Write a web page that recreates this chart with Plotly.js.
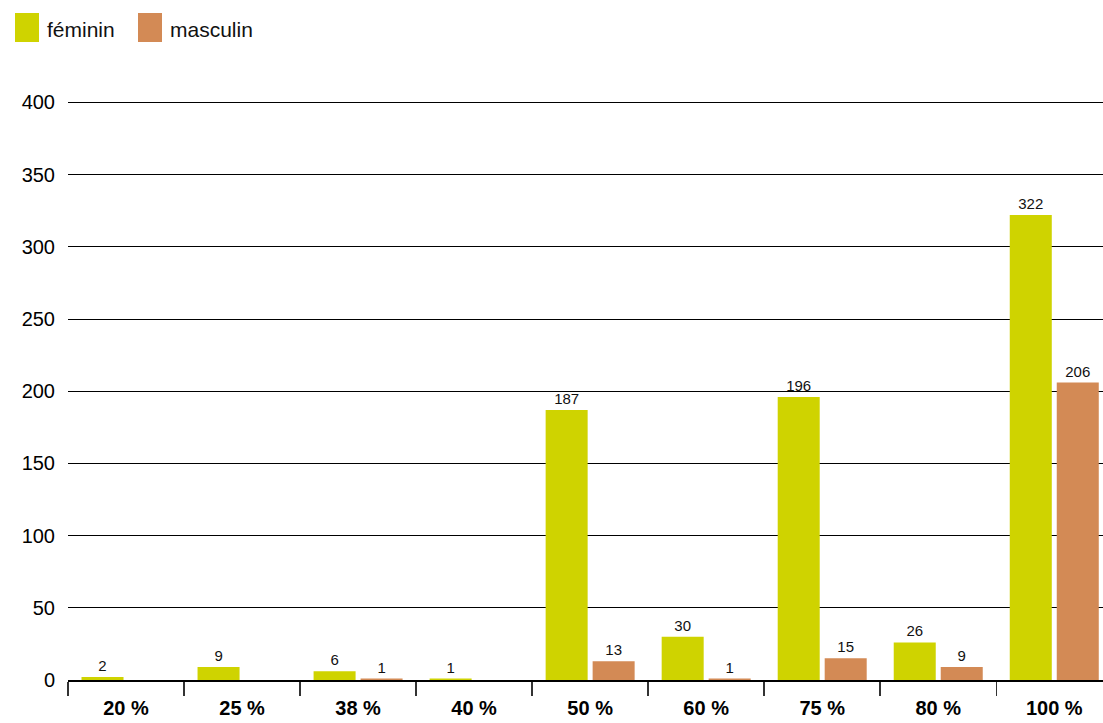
<!DOCTYPE html>
<html>
<head>
<meta charset="utf-8">
<script src="https://cdn.plot.ly/plotly-3.0.1.min.js"></script>
<style>html,body{margin:0;padding:0;background:#fff;}#chart{width:1103px;height:723px;}</style>
</head>
<body>
<div id="chart"></div>
<script>
var categories = ["20 %", "25 %", "38 %", "40 %", "50 %", "60 %", "75 %", "80 %", "100 %"];
var feminin = [2, 9, 6, 1, 187, 30, 196, 26, 322];
var masculin = [null, null, 1, null, 13, 1, 15, 9, 206];
var seriesNames = ["féminin", "masculin"];
var seriesColors = ["#CFD300", "#D38A55"];
var yTicks = [0, 50, 100, 150, 200, 250, 300, 350, 400];

var font = "'Liberation Sans', Arial, Helvetica, sans-serif";
function labels(arr) { return arr.map(function (v) { return v === null ? "" : String(v); }); }

var W = 1103, H = 723;
var M = {l: 68, r: 0, t: 101, b: 43};
function px(x) { return (x - M.l) / (W - M.l - M.r); }
function py(y) { return (H - M.b - y) / (H - M.t - M.b); }

var traces = [feminin, masculin].map(function (vals, i) {
  return {
    type: "bar", name: seriesNames[i], x: categories, y: vals,
    marker: {color: seriesColors[i]},
    text: labels(vals), textposition: "outside",
    textfont: {family: font, size: 15, color: "#111"},
    cliponaxis: false, hoverinfo: "x+y", showlegend: false
  };
});

// legend drawn as squares + text
var legendSquares = [[15, 39], [138, 162]];
var legendTextX = [45, 168];
var shapes = legendSquares.map(function (s, i) {
  return {type: "rect", xref: "paper", yref: "paper",
          x0: px(s[0]), x1: px(s[1]), y0: py(42), y1: py(13),
          fillcolor: seriesColors[i], line: {width: 0}};
});
var annotations = seriesNames.map(function (n, i) {
  return {xref: "paper", yref: "paper", x: px(legendTextX[i]), y: py(29),
          xanchor: "left", yanchor: "middle", showarrow: false, text: n,
          font: {family: font, size: 21, color: "#111"}};
});

var layout = {
  width: W, height: H,
  margin: M,
  paper_bgcolor: "#fff", plot_bgcolor: "#fff",
  font: {family: font, size: 20, color: "#000"},
  barmode: "group", bargap: 0.19, bargroupgap: 0.106,
  showlegend: false,
  shapes: shapes, annotations: annotations,
  xaxis: {
    type: "category", range: [-0.5, 8.42],
    showline: true, linecolor: "#000", linewidth: 2,
    ticks: "outside", tickson: "boundaries", ticklen: 14, tickcolor: "#333", tickwidth: 1.5,
    ticklabelstandoff: 9,
    tickfont: {family: font, size: 20, color: "#000", weight: 700},
    showgrid: false, fixedrange: true
  },
  yaxis: {
    range: [0, 401], tickvals: yTicks, ticktext: yTicks.map(String),
    showgrid: true, gridcolor: "#000", gridwidth: 1,
    zeroline: false, showline: false, ticks: "",
    ticklabelstandoff: 12,
    tickfont: {family: font, size: 20, color: "#000"},
    fixedrange: true
  }
};

Plotly.newPlot("chart", traces, layout, {displayModeBar: false, staticPlot: true});
</script>
</body>
</html>
